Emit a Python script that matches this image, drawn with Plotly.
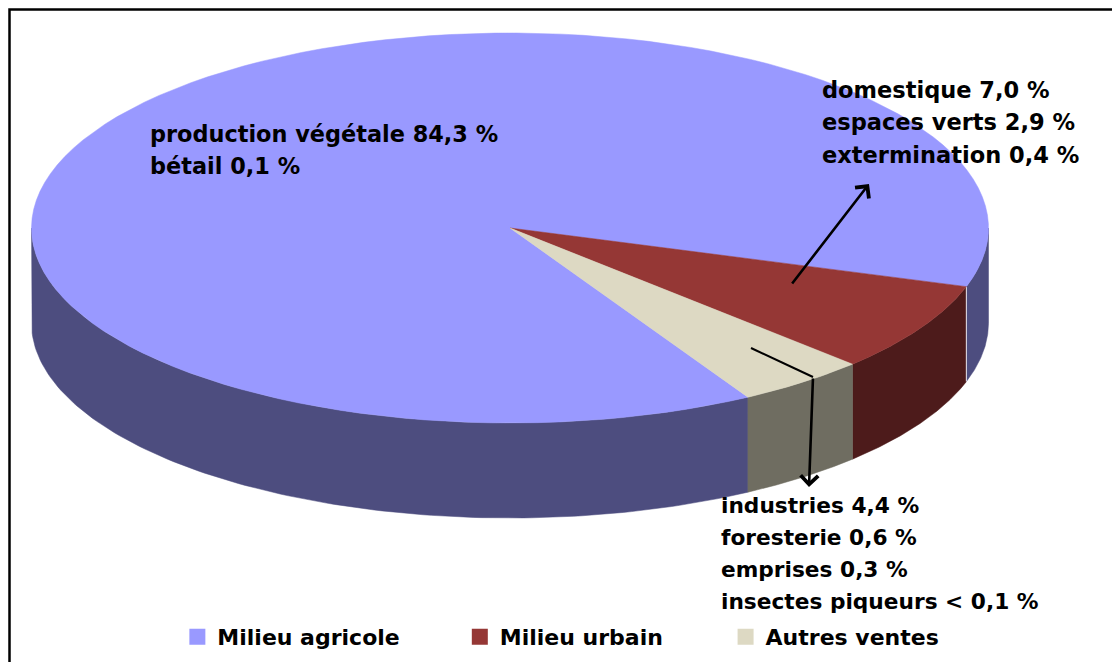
import numpy as np
import plotly.graph_objects as go

# ---- data ----
categories = ["Milieu agricole", "Milieu urbain", "Autres ventes"]
agricole_labels = ["production végétale 84,3 %", "bétail 0,1 %"]
agricole_values = [84.3, 0.1]
urbain_labels = ["domestique 7,0 %", "espaces verts 2,9 %", "extermination 0,4 %"]
urbain_values = [7.0, 2.9, 0.4]
autres_labels = ["industries 4,4 %", "foresterie 0,6 %", "emprises 0,3 %", "insectes piqueurs < 0,1 %"]
autres_values = [4.4, 0.6, 0.3, 0.05]

top_colors = ["#9999FF", "#953735", "#DDD9C3"]
wall_colors = ["#4D4D7F", "#4D1B1B", "#6F6D61"]

# ---- projection of the tilted pie onto the pixel-sized axes ----
CX, CY, RX, RY, DEPTH = 510, 228, 478.5, 195, 95
PERSP = 0.66
START_T = 17.5  # screen angle of the agricole/urbain boundary

def font(size):
    return dict(family="DejaVu Sans", size=size, color="#000000", weight="bold")

def warp(theta_deg):
    th = np.radians(theta_deg)
    return np.degrees(2 * np.arctan2(PERSP * np.sin(th / 2), np.cos(th / 2)))

def unwarp(t_deg):
    t = np.radians(t_deg)
    return np.degrees(2 * np.arctan2(np.sin(t / 2), PERSP * np.cos(t / 2)))

totals = [sum(agricole_values), sum(urbain_values), sum(autres_values)]
grand = sum(totals)
th1 = unwarp(START_T)
th2 = th1 + totals[1] / grand * 360
th3 = th2 + totals[2] / grand * 360
t1, t2, t3 = warp(th1), warp(th2), warp(th3)

def arc(a, b, dy=0, n=120):
    t = np.radians(np.linspace(a, b, n))
    return CX + RX * np.cos(t), CY + RY * np.sin(t) + dy

def wedge(a, b):
    x, y = arc(a, b)
    return np.r_[CX, x, CX], np.r_[CY, y, CY]

def wall(ranges):
    xs, ys = [], []
    for a, b in ranges:
        x0, y0 = arc(a, b)
        x1, y1 = arc(b, a, DEPTH)
        xs += list(x0) + list(x1) + [x0[0], None]
        ys += list(y0) + list(y1) + [y0[0], None]
    return xs, ys

fig = go.Figure()
walls = [[(t3, 180), (0, t1)], [(t1, t2)], [(t2, t3)]]
for rng, col, name in zip(walls, wall_colors, categories):
    x, y = wall(rng)
    fig.add_trace(go.Scatter(x=x, y=y, mode="lines", fill="toself", fillcolor=col,
                             line=dict(color=col, width=0.5), hoverinfo="skip",
                             showlegend=False, name=name + " (côté)"))
# white seam on the wall
sx, sy = arc(t1, t1, 0, 1)
fig.add_trace(go.Scatter(x=[sx[0], sx[0]], y=[sy[0], sy[0] + DEPTH], mode="lines",
                         line=dict(color="#E8E8F4", width=1), hoverinfo="skip", showlegend=False))
tops = [(t3, t1 + 360), (t1, t2), (t2, t3)]
for (a, b), col, name in zip(tops, top_colors, categories):
    x, y = wedge(a, b)
    fig.add_trace(go.Scatter(x=x, y=y, mode="lines", fill="toself", fillcolor=col,
                             line=dict(color=col, width=0.5), hoverinfo="skip",
                             showlegend=False, name=name))

# legends: one per category so each sits where the reference has it
legend_x = [0.1595, 0.4135, 0.6525]
marker_sizes = [19, 17, 17]
layout_legends = {}
for i, (name, col) in enumerate(zip(categories, top_colors)):
    key = "legend" if i == 0 else f"legend{i+1}"
    fig.add_trace(go.Scatter(x=[None], y=[None], mode="markers", name=name, legend=key,
                             marker=dict(symbol="square", size=marker_sizes[i], color=col)))
    layout_legends[key] = dict(x=legend_x[i], y=0.006, xanchor="left", yanchor="bottom",
                               bgcolor="rgba(0,0,0,0)", borderwidth=0, itemwidth=30, font=font(22))

annotations = []
def add_lines(labels, x, ys, size):
    for lab, y in zip(labels, ys):
        annotations.append(dict(x=x, y=y, xref="x", yref="y", text=lab, showarrow=False,
                                xanchor="left", yanchor="middle", font=font(size)))
add_lines(agricole_labels, 148, [134, 166], 22.4)
add_lines(urbain_labels, 820, [90, 122, 155], 22.5)
add_lines(autres_labels, 719, [505, 537, 569, 601], 21.7)
annotations.append(dict(x=869, y=184, ax=791, ay=285, xref="x", yref="y", axref="x", ayref="y",
                        text="", showarrow=True, arrowhead=4, arrowsize=1.3, arrowwidth=2.6, arrowcolor="#000000"))
annotations.append(dict(x=809, y=487, ax=813, ay=377, xref="x", yref="y", axref="x", ayref="y",
                        text="", showarrow=True, arrowhead=4, arrowsize=1.3, arrowwidth=2.6, arrowcolor="#000000"))

fig.update_layout(
    width=1112, height=662, margin=dict(l=0, r=0, t=0, b=0),
    paper_bgcolor="white", plot_bgcolor="white",
    xaxis=dict(range=[0, 1112], visible=False, fixedrange=True),
    yaxis=dict(range=[662, 0], visible=False, fixedrange=True),
    annotations=annotations,
    shapes=[
        dict(type="rect", xref="x", yref="y", x0=9.5, y0=9.5, x1=1130, y1=680,
             line=dict(color="#000000", width=2.5)),
        dict(type="line", xref="x", yref="y", x0=751, y0=348, x1=813, y1=377,
             line=dict(color="#000000", width=2)),
    ],
    **layout_legends,
)
fig.write_html("out.html", config={"displayModeBar": False},
               post_script="document.body.style.margin='0';document.body.style.overflow='hidden';")
